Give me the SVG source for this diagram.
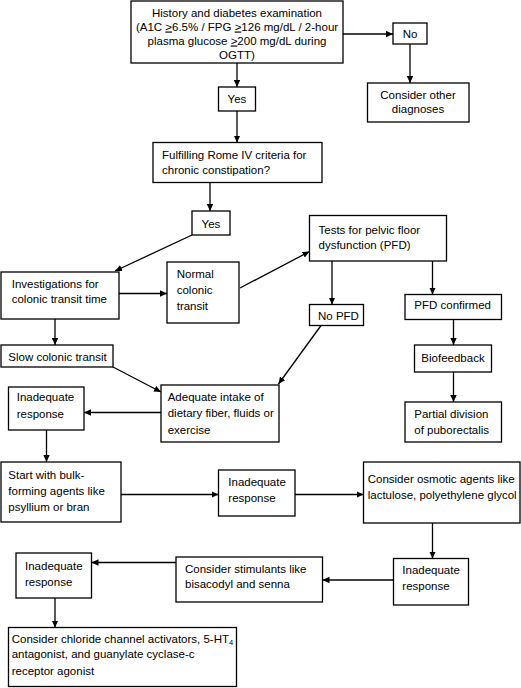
<svg xmlns="http://www.w3.org/2000/svg" width="521" height="688" viewBox="0 0 521 688">
<style>
rect{fill:#fff;stroke:#000;stroke-width:1.3}
text{font-family:"Liberation Sans",Arial,sans-serif;font-size:11.5px;fill:#000}
.c{text-anchor:middle}
#edges line{stroke:#000;stroke-width:1.3;marker-end:url(#ah)}
</style>
<defs>
<marker id="ah" markerUnits="userSpaceOnUse" markerWidth="8" markerHeight="7" refX="7" refY="3.2" orient="auto">
<path d="M0,0 L7,3.2 L0,6.4 z" fill="#000"/>
</marker>
</defs>
<rect x="0" y="0" width="521" height="688" style="stroke:none"/>
<g id="edges">
<line x1="343" y1="34" x2="393" y2="34"/>
<line x1="410" y1="44" x2="410" y2="83"/>
<line x1="237" y1="63" x2="237" y2="87"/>
<line x1="237" y1="111" x2="237" y2="142.5"/>
<line x1="210" y1="182.5" x2="210" y2="211"/>
<line x1="192" y1="235" x2="115" y2="271"/>
<line x1="119" y1="293.5" x2="167" y2="293.5"/>
<line x1="240" y1="288" x2="309.5" y2="251.5"/>
<line x1="332" y1="261" x2="332" y2="304.5"/>
<line x1="432.5" y1="261" x2="432.5" y2="294.5"/>
<line x1="453.5" y1="319.5" x2="453.5" y2="345"/>
<line x1="453.5" y1="372" x2="453.5" y2="402"/>
<line x1="55" y1="319" x2="55" y2="345"/>
<line x1="321" y1="325.5" x2="278.5" y2="384"/>
<line x1="113" y1="367" x2="161" y2="392"/>
<line x1="161" y1="412.5" x2="84" y2="412.5"/>
<line x1="46.5" y1="430" x2="46.5" y2="462"/>
<line x1="121" y1="494.5" x2="218.5" y2="494.5"/>
<line x1="295" y1="494.5" x2="363.5" y2="494.5"/>
<line x1="432.5" y1="523" x2="432.5" y2="558.5"/>
<line x1="393.5" y1="580" x2="322.5" y2="580"/>
<line x1="176" y1="562.5" x2="91.5" y2="562.5"/>
<line x1="55" y1="598" x2="55" y2="627.5"/>
</g>
<g id="history"><rect x="131" y="1" width="212" height="62"/>
<text class="c" x="237" y="16.5">History and diabetes examination</text>
<text class="c" x="237" y="30.5">(A1C <tspan text-decoration="underline">&gt;</tspan>6.5% / FPG <tspan text-decoration="underline">&gt;</tspan>126 mg/dL / 2-hour</text>
<text class="c" x="237" y="44.5">plasma glucose <tspan text-decoration="underline">&gt;</tspan>200 mg/dL during</text>
<text class="c" x="237" y="58.5">OGTT)</text></g>
<g id="no"><rect x="393" y="23" width="34" height="21"/><text class="c" x="410" y="38">No</text></g>
<g id="other"><rect x="367.5" y="83" width="101.5" height="39"/>
<text class="c" x="418" y="99">Consider other</text><text class="c" x="418" y="113">diagnoses</text></g>
<g id="yes1"><rect x="218.5" y="87" width="37" height="24"/><text class="c" x="237" y="102.5">Yes</text></g>
<g id="rome"><rect x="153" y="142.5" width="169" height="40"/>
<text x="162" y="158.5">Fulfilling Rome IV criteria for</text><text x="162" y="174">chronic constipation?</text></g>
<g id="yes2"><rect x="192" y="211" width="38" height="24"/><text class="c" x="211" y="227.5">Yes</text></g>
<g id="invest"><rect x="1" y="272" width="118" height="47"/>
<text x="11.7" y="288">Investigations for</text><text x="11.7" y="303">colonic transit time</text></g>
<g id="normal"><rect x="167" y="262" width="72" height="61"/>
<text x="176.7" y="278">Normal</text><text x="176.7" y="293.5">colonic</text><text x="176.7" y="310">transit</text></g>
<g id="tests"><rect x="309.5" y="215.5" width="137" height="45.5"/>
<text x="318.5" y="234">Tests for pelvic floor</text><text x="318.5" y="249">dysfunction (PFD)</text></g>
<g id="nopfd"><rect x="309.5" y="304.5" width="54" height="21"/><text x="318" y="320">No PFD</text></g>
<g id="pfdc"><rect x="405" y="294.5" width="96.5" height="25"/><text x="414.3" y="308.5">PFD confirmed</text></g>
<g id="slow"><rect x="1" y="345" width="112" height="22"/><text x="8.3" y="361">Slow colonic transit</text></g>
<g id="bio"><rect x="414.5" y="345" width="77" height="27"/><text class="c" x="453" y="361.5">Biofeedback</text></g>
<g id="partial"><rect x="405" y="402" width="96.5" height="40"/>
<text x="414.3" y="417.5">Partial division</text><text x="414.3" y="434">of puborectalis</text></g>
<g id="adequate"><rect x="161" y="385" width="118" height="57"/>
<text x="167.7" y="401">Adequate intake of</text><text x="167.7" y="417">dietary fiber, fluids or</text><text x="167.7" y="434">exercise</text></g>
<g id="inad1"><rect x="8.5" y="387" width="75.5" height="43"/>
<text x="16.7" y="401">Inadequate</text><text x="16.7" y="417.5">response</text></g>
<g id="start"><rect x="1" y="462" width="120" height="60"/>
<text x="8.3" y="479">Start with bulk-</text><text x="8.3" y="495">forming agents like</text><text x="8.3" y="511">psyllium or bran</text></g>
<g id="inad2"><rect x="218.5" y="470" width="76.5" height="46"/>
<text x="228.3" y="486">Inadequate</text><text x="228.3" y="502">response</text></g>
<g id="osmotic"><rect x="363.5" y="462" width="156.5" height="61"/>
<text x="367.7" y="482.5">Consider osmotic agents like</text><text x="367.7" y="498.5">lactulose, polyethylene glycol</text></g>
<g id="inad3"><rect x="393.5" y="558.5" width="75" height="46.5"/>
<text x="402.3" y="574">Inadequate</text><text x="402.3" y="590">response</text></g>
<g id="stim"><rect x="176" y="557" width="146.5" height="45"/>
<text x="185" y="573">Consider stimulants like</text><text x="185" y="588">bisacodyl and senna</text></g>
<g id="inad4"><rect x="16" y="553" width="75.5" height="45"/>
<text x="25" y="570">Inadequate</text><text x="25" y="586">response</text></g>
<g id="final"><rect x="8.5" y="627.5" width="228" height="59"/>
<text x="11.7" y="642.5">Consider chloride channel activators, 5-HT<tspan font-size="7.5px" dy="2.5">4</tspan></text>
<text x="11.7" y="658">antagonist, and guanylate cyclase-c</text><text x="11.7" y="675">receptor agonist</text></g>
</svg>
